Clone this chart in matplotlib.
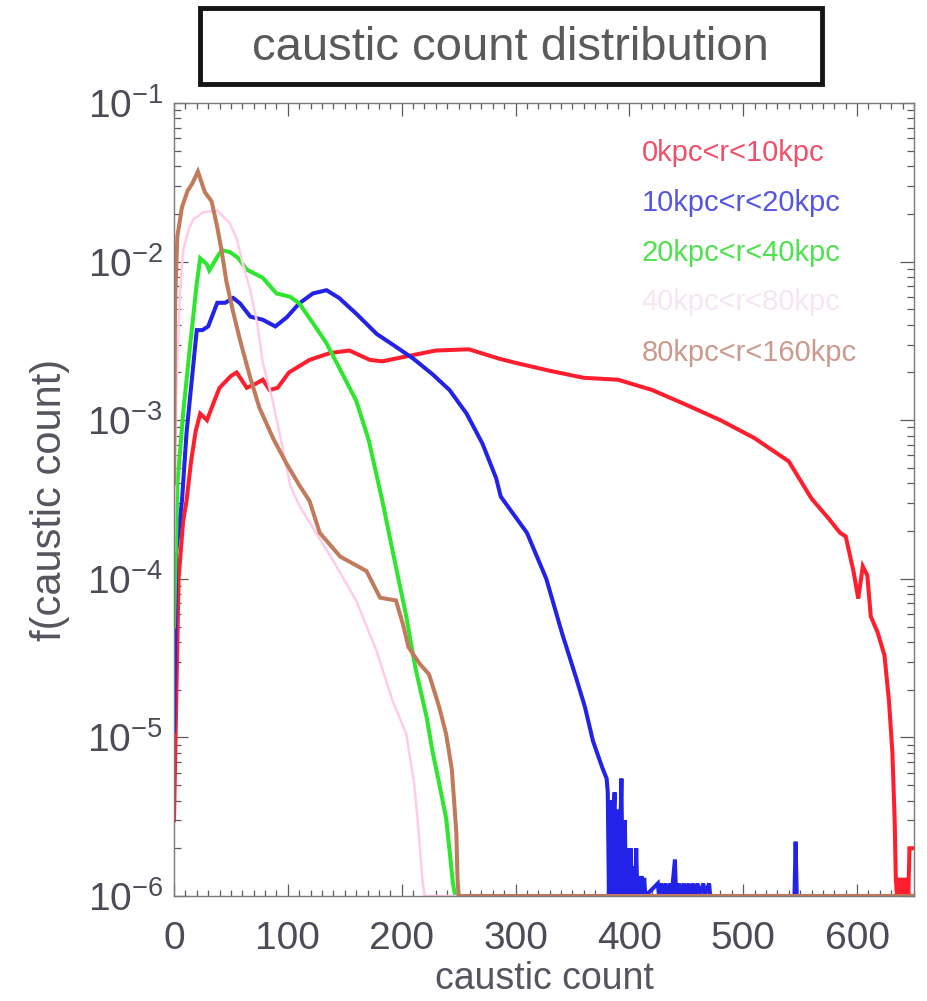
import numpy as np
import matplotlib
matplotlib.use("Agg")
import matplotlib.pyplot as plt
from matplotlib.patches import Rectangle
from matplotlib.ticker import MultipleLocator, LogLocator, NullFormatter

plt.rcParams["font.family"] = ["Liberation Sans", "DejaVu Sans"]
plt.rcParams["mathtext.fontset"] = "custom"
plt.rcParams["mathtext.rm"] = "Liberation Sans"
plt.rcParams["mathtext.default"] = "regular"

# ---- distribution of caustic counts, per radial shell ----
labels = ["0kpc<r<10kpc", "10kpc<r<20kpc", "20kpc<r<40kpc",
          "40kpc<r<80kpc", "80kpc<r<160kpc"]

red_x = [0, 4, 8, 11, 15, 19, 23, 29, 35, 40, 50, 55, 64, 72, 78, 84, 91, 101,
         119, 137, 154, 172, 183, 207, 230, 259, 285, 300, 330, 360, 390, 420,
         450, 480, 510, 540, 560, 575, 585, 590, 597, 601, 605, 609, 612, 618,
         624, 628, 631, 633, 634, 635, 636, 637, 638, 639, 640, 641, 642, 643,
         644, 645, 646, 647, 648, 649, 650]
red_y = [3e-6, 1e-4, 2.3e-4, 3.1e-4, 5.5e-4, 8.5e-4, 1.1e-3, 1.0e-3, 1.3e-3,
         1.6e-3, 1.9e-3, 2.0e-3, 1.6e-3, 1.7e-3, 1.8e-3, 1.55e-3, 1.6e-3,
         2.0e-3, 2.4e-3, 2.65e-3, 2.75e-3, 2.4e-3, 2.35e-3, 2.55e-3, 2.75e-3,
         2.8e-3, 2.45e-3, 2.3e-3, 2.05e-3, 1.85e-3, 1.8e-3, 1.55e-3, 1.25e-3,
         1.0e-3, 7.7e-4, 5.5e-4, 3.2e-4, 2.4e-4, 1.95e-4, 1.85e-4, 1.1e-4,
         7.5e-5, 1.2e-4, 1.05e-4, 5.8e-5, 4.6e-5, 3.3e-5, 1.7e-5, 8e-6, 3e-6,
         1.3e-6, 0, 1.3e-6, 0, 1.3e-6, 0, 1.3e-6, 0, 1.3e-6, 0, 1.3e-6, 0,
         2e-6, 2e-6, 2e-6, 2e-6, 2e-6]

blue_x = [0, 2, 7, 11, 20, 25, 30, 38, 45, 52, 58, 67, 78, 89, 99, 110, 122,
          134, 145, 160, 178, 192, 210, 227, 242, 257, 271, 283, 287, 310, 327,
          341, 353, 361, 368, 376, 380, 381, 382, 383, 384, 385, 386, 387, 388,
          389, 390, 391, 392, 393, 394, 395, 396, 397, 398, 399, 400, 401, 402,
          403, 404, 405, 406, 407, 408, 409, 410, 411, 412, 413, 414, 425, 426,
          428, 429, 432, 433, 436, 437, 440, 441, 444, 445, 448, 449, 452, 453,
          456, 457, 460, 461, 465, 466, 470, 471, 545, 546, 547, 650]
blue_y = [1.1e-5, 1.5e-4, 3.1e-4, 8.3e-4, 3.7e-3, 3.7e-3, 3.9e-3, 5.5e-3,
          5.5e-3, 5.9e-3, 5.45e-3, 4.5e-3, 4.3e-3, 3.9e-3, 4.45e-3, 5.45e-3,
          6.3e-3, 6.6e-3, 5.9e-3, 4.7e-3, 3.5e-3, 3.0e-3, 2.45e-3, 1.95e-3,
          1.55e-3, 1.1e-3, 7.1e-4, 4.3e-4, 3.3e-4, 1.95e-4, 1.0e-4, 4.5e-5,
          2.4e-5, 1.55e-5, 9.5e-6, 6.5e-6, 5.5e-6, 4.5e-6, 0, 4e-6, 3.5e-6, 0,
          3e-6, 4.5e-6, 0, 2.5e-6, 3.5e-6, 0, 2.5e-6, 5.5e-6, 0, 2e-6, 3e-6, 0,
          2e-6, 1.5e-6, 0, 2e-6, 0, 1.5e-6, 1.5e-6, 0, 2e-6, 0, 1.3e-6, 0,
          1.3e-6, 1.3e-6, 0, 1.3e-6, 0, 1.2e-6, 0, 1.2e-6, 0, 1.2e-6, 0, 1.2e-6,
          0, 1.7e-6, 0, 1.2e-6, 0, 1.2e-6, 0, 1.2e-6, 0, 1.2e-6, 0, 1.2e-6, 0,
          1.2e-6, 0, 1.2e-6, 0, 0, 2.2e-6, 0, 0]

green_x = [0, 3, 8, 14, 20, 23, 29, 31, 38, 42, 49, 56, 64, 78, 90, 102, 110,
           122, 134, 145, 160, 171, 183, 192, 204, 212, 222, 227, 233, 239,
           242, 245, 247, 650]
green_y = [5e-5, 4e-4, 1.1e-3, 2.9e-3, 7.3e-3, 1.05e-2, 9.6e-3, 8.8e-3,
           1.07e-2, 1.18e-2, 1.15e-2, 1.06e-2, 8.9e-3, 7.9e-3, 6.3e-3, 6.0e-3,
           5.45e-3, 4.1e-3, 3.05e-3, 2.15e-3, 1.33e-3, 7.5e-4, 3.1e-4, 1.5e-4,
           5.8e-5, 2.75e-5, 1.33e-5, 8.2e-6, 5.1e-6, 3.1e-6, 1.95e-6, 1.2e-6,
           0, 0]

pink_x = [0, 2, 5, 8, 13, 17, 26, 38, 49, 55, 60, 67, 73, 78, 87, 96, 102,
          110, 139, 160, 178, 192, 204, 211, 215, 218, 220, 650]
pink_y = [1.5e-4, 1.5e-3, 6e-3, 1.18e-2, 1.6e-2, 1.85e-2, 2.05e-2, 2.1e-2,
          1.75e-2, 1.4e-2, 1.0e-2, 6.6e-3, 4.1e-3, 2.3e-3, 1.3e-3, 6.4e-4,
          3.9e-4, 2.9e-4, 1.33e-4, 7.3e-5, 3.5e-5, 1.7e-5, 1.05e-5, 5.1e-6,
          2.5e-6, 1.3e-6, 0, 0]

brown_x = [0, 1, 3, 7, 12, 16, 21, 27, 33, 38, 42, 46, 52, 58, 67, 75, 87, 99,
           110, 119, 128, 146, 169, 181, 195, 201, 206, 216, 224, 233, 239,
           244, 246, 248, 249, 250, 650]
brown_y = [4e-4, 5.7e-3, 1.45e-2, 2.2e-2, 2.8e-2, 3.1e-2, 3.7e-2, 2.75e-2,
           2.4e-2, 1.65e-2, 1.15e-2, 7.5e-3, 4.8e-3, 3.2e-3, 1.85e-3, 1.2e-3,
           7.7e-4, 5.3e-4, 3.9e-4, 3.1e-4, 1.95e-4, 1.38e-4, 1.12e-4, 7.6e-5,
           7.3e-5, 5.2e-5, 3.7e-5, 2.9e-5, 2.5e-5, 1.55e-5, 1.05e-5, 6.3e-6,
           4.0e-6, 2.5e-6, 1.3e-6, 0, 0]

series_x = [red_x, blue_x, green_x, pink_x, brown_x]
series_y = [red_y, blue_y, green_y, pink_y, brown_y]

line_colors = ["#ff1e2d", "#2222e8", "#2ee62e", "#ffcce8", "#c27a5c"]
label_colors = ["#f0506a", "#5656e0", "#4ee24e", "#f6e6f2", "#cc9a8c"]
line_widths = [2.9, 2.9, 2.9, 1.8, 2.9]

YMIN, YMAX = 1e-6, 1e-1
XMIN, XMAX = 0, 650

fig = plt.figure(figsize=(9.27, 10.01), dpi=100)
ax = fig.add_axes([0.1877, 0.1049, 0.7983, 0.7922])

for xs, ys, c, lw in zip(series_x, series_y, line_colors, line_widths):
    ys = np.clip(np.asarray(ys, dtype=float), YMIN, None)
    ax.plot(xs, ys, color=c, lw=lw, solid_joinstyle="miter")

ax.set_yscale("log")
ax.set_xlim(XMIN, XMAX)
ax.set_ylim(YMIN, YMAX)

ax.xaxis.set_major_locator(MultipleLocator(100))
ax.xaxis.set_minor_locator(MultipleLocator(10))
ax.yaxis.set_major_locator(LogLocator(base=10, numticks=10))
ax.yaxis.set_minor_locator(LogLocator(base=10, subs=np.arange(2, 10), numticks=20))
ax.yaxis.set_minor_formatter(NullFormatter())

tick_col = "#5a5a5a"
label_col = "#4c4c58"
for s in ax.spines.values():
    s.set_color("#7a7a7a")
    s.set_linewidth(1.0)
ax.tick_params(which="both", direction="in", top=True, right=True,
               color=tick_col, width=0.9)
ax.tick_params(axis="x", which="major", length=9, pad=18,
               labelsize=28, labelcolor=label_col)
ax.tick_params(axis="x", which="minor", length=4.5)
ax.tick_params(axis="y", which="major", length=10, pad=8,
               labelsize=28, labelcolor=label_col)
ax.tick_params(axis="y", which="minor", length=5)

ax.set_xlabel("caustic count", fontsize=27, color="#555560", labelpad=3)
ax.set_ylabel("f(caustic count)", fontsize=30, color="#555560", labelpad=12)

# shell labels, stacked in the upper right
ys_lab = [0.937, 0.874, 0.811, 0.749, 0.685]
for lab, c, yy in zip(labels, label_colors, ys_lab):
    ax.text(0.632, yy, lab, color=c, fontsize=21, transform=ax.transAxes,
            ha="left", va="center")

# boxed title
fig.patches.append(Rectangle((0.2157, 0.916), 0.671, 0.076,
                             transform=fig.transFigure, fill=False,
                             edgecolor="#151515", linewidth=3.5))
fig.text(0.551, 0.952, "caustic count distribution", fontsize=34,
         color="#5a5a5a", ha="center", va="center")

fig.savefig("out.png", dpi=100)
